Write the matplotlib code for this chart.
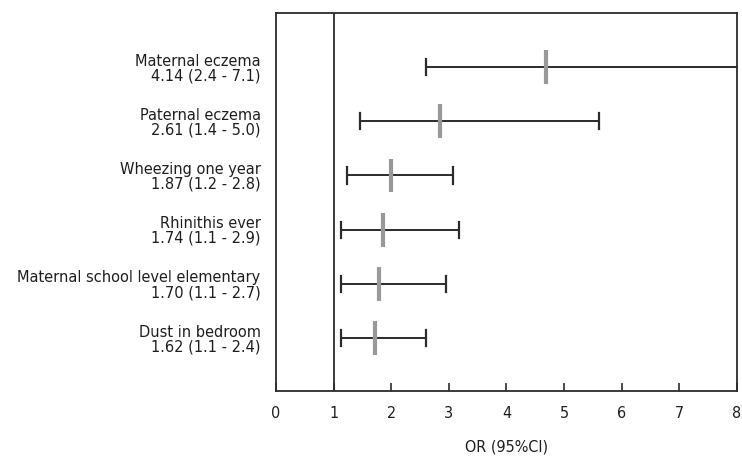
import numpy as np
import matplotlib
matplotlib.use("Agg")
import matplotlib.pyplot as plt

# labels as printed next to each row (top to bottom)
factors = [
    "Maternal eczema",
    "Paternal eczema",
    "Wheezing one year",
    "Rhinithis ever",
    "Maternal school level elementary",
    "Dust in bedroom",
]
printed_or = [
    "4.14 (2.4 - 7.1)",
    "2.61 (1.4 - 5.0)",
    "1.87 (1.2 - 2.8)",
    "1.74 (1.1 - 2.9)",
    "1.70 (1.1 - 2.7)",
    "1.62 (1.1 - 2.4)",
]
# positions as drawn in the figure
or_drawn = [4.68, 2.85, 2.00, 1.85, 1.79, 1.71]
ci_low = [2.60, 1.46, 1.23, 1.12, 1.12, 1.12]
ci_high = [8.60, 5.60, 3.07, 3.18, 2.95, 2.60]

x_ticks = [0, 1, 2, 3, 4, 5, 6, 7, 8]

plt.rcParams["font.family"] = ["DejaVu Sans"]
plt.rcParams["font.stretch"] = "condensed"

fig = plt.figure(figsize=(7.42, 4.57), dpi=100)
ax = fig.add_axes([0.372, 0.145, 0.621, 0.827])

n = len(factors)
ypos = np.arange(n, 0, -1)
line_col = "#2b2b2b"
text_col = "#1e1e1e"

for y, lo, hi, m in zip(ypos, ci_low, ci_high, or_drawn):
    ax.plot([lo, hi], [y, y], color=line_col, lw=1.4, solid_capstyle="butt", zorder=2)
    ax.plot([lo, lo], [y - 0.15, y + 0.15], color=line_col, lw=1.6, zorder=2)
    ax.plot([hi, hi], [y - 0.15, y + 0.15], color=line_col, lw=1.6, zorder=2)
    ax.plot([m, m], [y - 0.31, y + 0.31], color="#999999", lw=3, solid_capstyle="butt", zorder=3)

ax.axvline(1, color=line_col, lw=1.3, zorder=1)

ax.set_xlim(0, 8)
ax.set_ylim(0.03, 7)
ax.set_xticks(x_ticks)
ax.set_xticklabels([str(t) for t in x_ticks])
ax.set_yticks(ypos)
ax.set_yticklabels([f"{f}\n{o}" for f, o in zip(factors, printed_or)],
                   multialignment="right", linespacing=0.98)

ax.tick_params(axis="x", direction="in", length=6, width=1.2, color=line_col,
               pad=11, labelsize=11.5, labelcolor=text_col)
ax.tick_params(axis="y", length=0, pad=11, labelsize=11.7, labelcolor=text_col)

for s in ax.spines.values():
    s.set_color(line_col)
    s.set_linewidth(1.3)

ax.set_xlabel("OR (95%CI)", fontsize=11.5, color=text_col, labelpad=13)

fig.savefig("out.png", dpi=100)
